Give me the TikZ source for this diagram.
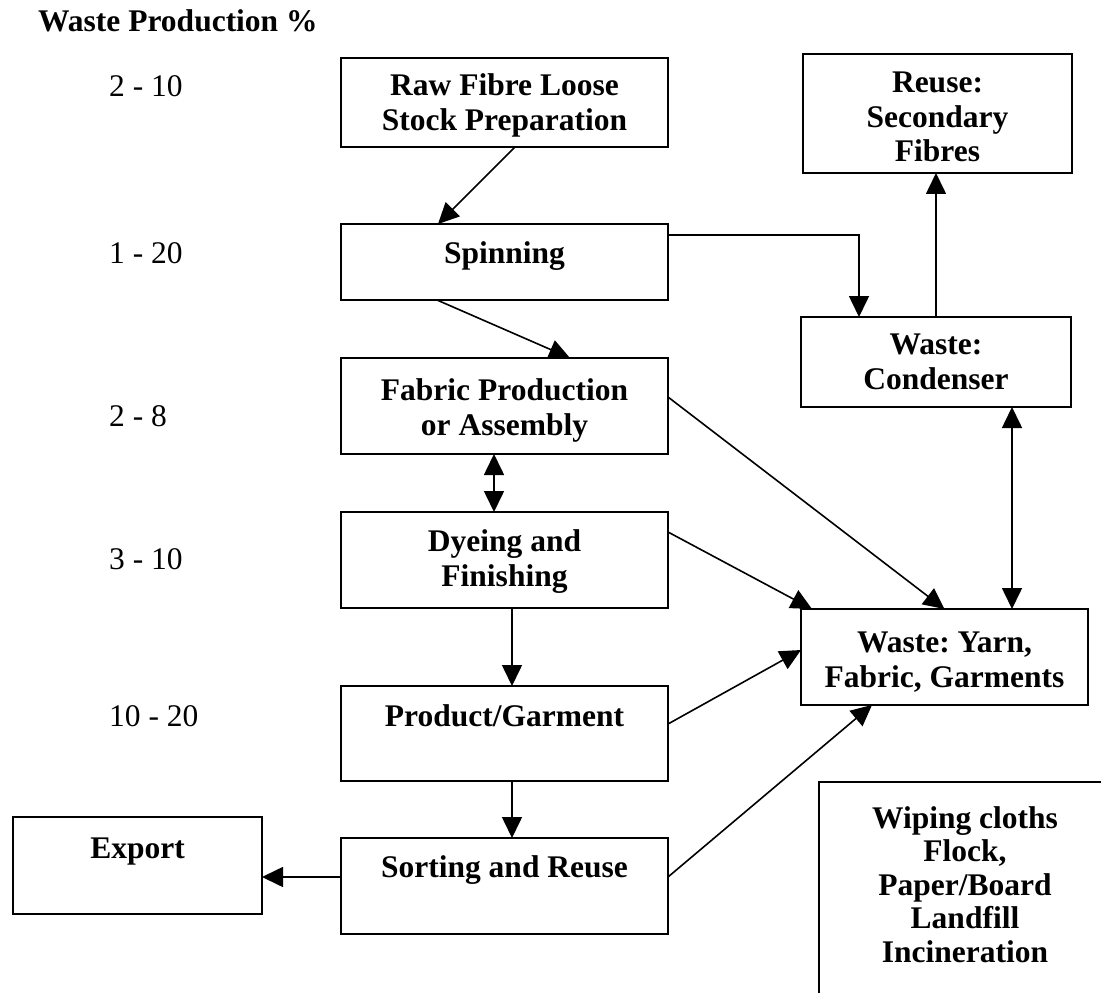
\documentclass[tikz,border=0pt]{standalone}
\usepackage{fontspec}
\setmainfont{Liberation Serif}
\usetikzlibrary{arrows.meta}
\frenchspacing
\begin{document}
\begin{tikzpicture}[x=1pt,y=-1pt,
  box/.style={draw, line width=1.8pt, inner sep=0pt, outer sep=0pt},
  txt/.style={font=\fontsize{31.5}{35}\selectfont\bfseries, align=center, anchor=base, inner sep=0pt},
  pct/.style={font=\fontsize{31.5}{35}\selectfont, anchor=base west, inner sep=0pt},
  arr/.style={line width=1.6pt, -{Triangle[length=21pt,width=20pt]}},
  darr/.style={line width=1.6pt, {Triangle[length=21pt,width=20pt]}-{Triangle[length=21pt,width=20pt]}}]
\useasboundingbox[fill=white] (0,0) rectangle (1101,1006);

% title and percentages
\node[txt, anchor=base west] (title) at (38,32) {Waste Production \%};
\node[pct] (p1) at (109,97) {2 - 10};
\node[pct] (p2) at (109,263) {1 - 20};
\node[pct] (p3) at (109,426) {2 - 8};
\node[pct] (p4) at (109,569) {3 - 10};
\node[pct] (p5) at (109,726) {10 - 20};

% boxes
\node[box, minimum width=327pt, minimum height=89pt] (raw)  at (504.5,102.5) {};
\node[box, minimum width=327pt, minimum height=76pt] (spin) at (504.5,262) {};
\node[box, minimum width=327pt, minimum height=96pt] (fab)  at (504.5,406) {};
\node[box, minimum width=327pt, minimum height=96pt] (dye)  at (504.5,560) {};
\node[box, minimum width=327pt, minimum height=95pt] (prod) at (504.5,733.5) {};
\node[box, minimum width=327pt, minimum height=96pt] (sort) at (504.5,886) {};
\node[box, minimum width=249pt, minimum height=97pt] (exp)  at (137.5,865.5) {};
\node[box, minimum width=269pt, minimum height=119pt] (reuse) at (937.5,113.5) {};
\node[box, minimum width=270pt, minimum height=90pt] (cond) at (936,362) {};
\node[box, minimum width=287pt, minimum height=96pt] (yarn) at (944.5,657) {};

% box texts (multi-line nodes are placed by the baseline of their last line)
\node[txt] (rawt)  at (504.5,131) {Raw Fibre Loose\\Stock Preparation};
\node[txt] (spint) at (504.5,263) {Spinning};
\node[txt] (fabt)  at (504.5,435) {Fabric Production\\or Assembly};
\node[txt] (dyet)  at (504.5,586) {Dyeing and\\Finishing};
\node[txt] (prodt) at (504.5,726) {Product/Garment};
\node[txt] (sortt) at (504.5,877) {Sorting and Reuse};
\node[txt] (expt)  at (137.5,858) {Export};
\node[txt] (reuset) at (937.5,162) {Reuse:\\Secondary\\Fibres};
\node[txt] (condt) at (936,389) {Waste:\\Condenser};
\node[txt] (yarnt) at (944.5,687) {Waste: Yarn,\\Fabric, Garments};

% open box bottom right
\coordinate (ob1) at (819,993);
\coordinate (ob2) at (819,782);
\coordinate (ob3) at (1101,782);
\draw[line width=1.8pt] (ob1) -- (ob2) -- (ob3);
\node[txt, font=\fontsize{31.5}{33.5}\selectfont\bfseries] (uses) at (965,962) {Wiping cloths\\Flock,\\Paper/Board\\Landfill\\Incineration};

% connectors
\draw[arr] ([xshift=174pt]raw.south west) -- ([xshift=97pt]spin.north west);
\draw[arr] ([xshift=96pt]spin.south west) -- ([xshift=229pt]fab.north west);
\draw[darr] ([xshift=153pt]fab.south west) -- ([xshift=153pt]dye.north west);
\draw[arr] ([xshift=171pt]dye.south west) -- ([xshift=171pt]prod.north west);
\draw[arr] ([xshift=171pt]prod.south west) -- ([xshift=171pt]sort.north west);
\draw[arr] ([yshift=9pt]sort.west) -- ([yshift=9pt]sort.west -| exp.east);
\draw[arr] ([yshift=-11pt]spin.north east) -| ([xshift=58pt]cond.north west);
\draw[arr] (cond.north) -- (cond.north |- reuse.south);
\draw[darr] ([xshift=-59pt]cond.south east) -- ([xshift=-59pt]cond.south east |- yarn.north);
\draw[arr] ([yshift=9pt]fab.east) -- (yarn.north);
\draw[arr] ([yshift=28pt]dye.east) -- ([xshift=11pt]yarn.north west);
\draw[arr] ([yshift=9.5pt]prod.east) -- ([yshift=7pt]yarn.west);
\draw[arr] ([yshift=9pt]sort.east) -- ([xshift=71pt]yarn.south west);
\end{tikzpicture}
\end{document}
